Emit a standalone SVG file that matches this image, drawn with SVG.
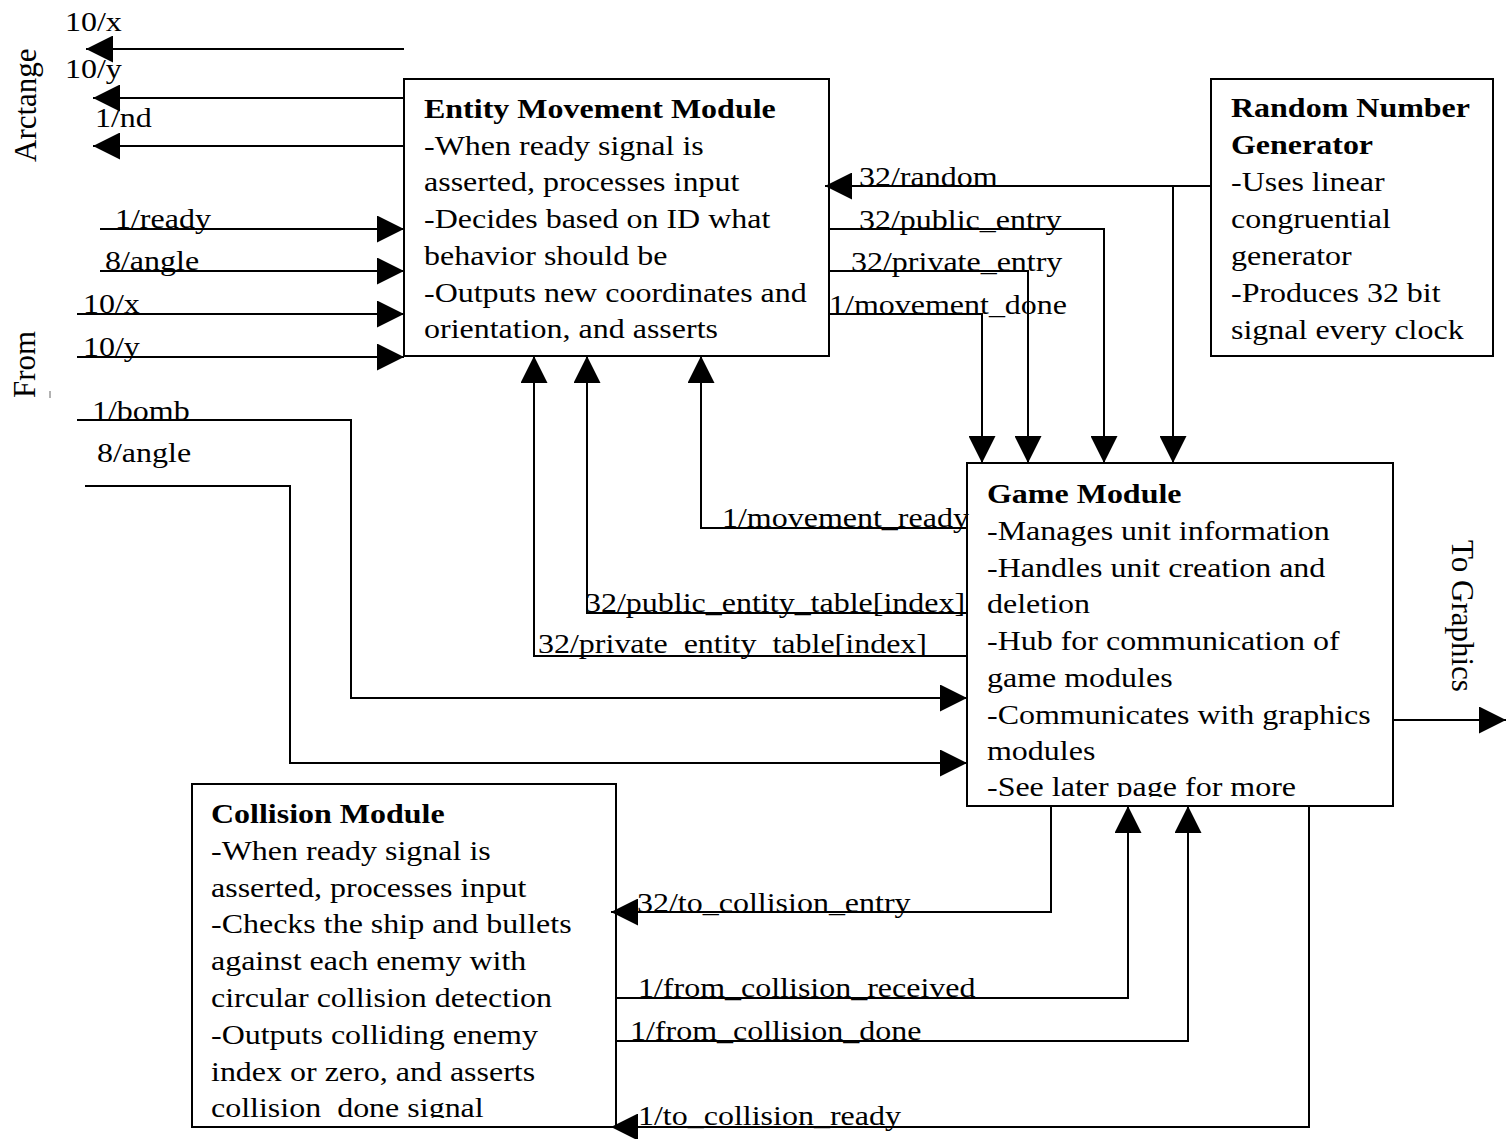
<svg xmlns="http://www.w3.org/2000/svg" width="1508" height="1139" viewBox="0 0 1508 1139">
<defs>
<style>
text{font-family:"Liberation Serif","Times New Roman",serif;font-size:32px;fill:#000}
.s{transform-box:fill-box;transform-origin:0 80.5%;transform:scaleY(0.88)}
.b{font-weight:bold}
.r{font-size:31px}
.box{fill:#fff;stroke:#000;stroke-width:2}
.c path{fill:none;stroke:#000;stroke-width:2;marker-end:url(#ah)}
.c path.n{marker-end:none}
</style>
<marker id="ah" markerUnits="userSpaceOnUse" markerWidth="27" markerHeight="27" refX="27" refY="13.5" orient="auto" viewBox="0 0 27 27"><path d="M0,0L27,13.5L0,27z" fill="#000"/></marker>
<clipPath id="cg"><rect x="967" y="463" width="426" height="334"/></clipPath>
<clipPath id="cc"><rect x="192" y="784" width="424" height="334"/></clipPath>
</defs>
<rect width="1508" height="1139" fill="#fff"/>

<g id="entity-movement">
<rect class="box" x="404" y="79" width="425" height="277"/>
<text class="s b" x="424" y="118">Entity Movement Module</text>
<text class="s" x="424" y="155">-When ready signal is</text>
<text class="s" x="424" y="191">asserted, processes input</text>
<text class="s" x="424" y="228">-Decides based on ID what</text>
<text class="s" x="424" y="265">behavior should be</text>
<text class="s" x="424" y="302">-Outputs new coordinates and</text>
<text class="s" x="424" y="338">orientation, and asserts</text>
</g>

<g id="random-number-generator">
<rect class="box" x="1211" y="79" width="282" height="277"/>
<text class="s b" x="1231" y="117">Random Number</text>
<text class="s b" x="1231" y="154">Generator</text>
<text class="s" x="1231" y="191">-Uses linear</text>
<text class="s" x="1231" y="228">congruential</text>
<text class="s" x="1231" y="265">generator</text>
<text class="s" x="1231" y="302">-Produces 32 bit</text>
<text class="s" x="1231" y="339">signal every clock</text>
</g>

<g id="game-module">
<rect class="box" x="967" y="463" width="426" height="343"/>
<g clip-path="url(#cg)">
<text class="s b" x="987" y="503">Game Module</text>
<text class="s" x="987" y="540">-Manages unit information</text>
<text class="s" x="987" y="577">-Handles unit creation and</text>
<text class="s" x="987" y="613">deletion</text>
<text class="s" x="987" y="650">-Hub for communication of</text>
<text class="s" x="987" y="687">game modules</text>
<text class="s" x="987" y="724">-Communicates with graphics</text>
<text class="s" x="987" y="760">modules</text>
<text class="s" x="987" y="796">-See later page for more</text>
</g>
</g>

<g id="collision-module">
<rect class="box" x="192" y="784" width="424" height="343"/>
<g clip-path="url(#cc)">
<text class="s b" x="211" y="823">Collision Module</text>
<text class="s" x="211" y="860">-When ready signal is</text>
<text class="s" x="211" y="897">asserted, processes input</text>
<text class="s" x="211" y="933">-Checks the ship and bullets</text>
<text class="s" x="211" y="970">against each enemy with</text>
<text class="s" x="211" y="1007">circular collision detection</text>
<text class="s" x="211" y="1044">-Outputs colliding enemy</text>
<text class="s" x="211" y="1081">index or zero, and asserts</text>
<text class="s" x="211" y="1117">collision_done signal</text>
</g>
</g>

<g id="side-labels">
<text class="r" transform="translate(36,162) rotate(-90)">Arctange</text>
<text class="r" transform="translate(35,398) rotate(-90)">From</text>
<line x1="50" y1="391" x2="50" y2="398" stroke="#666" stroke-width="1"/>
<text class="r" transform="translate(1452,540) rotate(90)">To Graphics</text>
</g>

<g id="connectors" class="c">
<path d="M404,49H86"/>
<path d="M404,98H93"/>
<path d="M404,146H93"/>
<path d="M100,229H404"/>
<path d="M100,271H404"/>
<path d="M77,314H404"/>
<path d="M77,357H404"/>
<path d="M77,420H351V698H967"/>
<path d="M85,486H290V763H967"/>
<path d="M1211,186H825"/>
<path d="M1173,186V463"/>
<path d="M829,229H1104V463"/>
<path d="M829,271H1028V463"/>
<path d="M829,314H982V463"/>
<path d="M967,528H701V356"/>
<path d="M967,613H587V356"/>
<path d="M967,656H534V356"/>
<path d="M1393,720H1506"/>
<path d="M1051,806V912H611"/>
<path d="M616,998H1128V806"/>
<path d="M616,1041H1188V806"/>
<path d="M1309,806V1127H611"/>

<text class="s" x="65" y="31">10/x</text>
<text class="s" x="65" y="78">10/y</text>
<text class="s" x="95" y="127">1/nd</text>
<text class="s" x="115" y="228">1/ready</text>
<text class="s" x="105" y="270">8/angle</text>
<text class="s" x="83" y="313">10/x</text>
<text class="s" x="83" y="356">10/y</text>
<text class="s" x="92" y="420">1/bomb</text>
<text class="s" x="97" y="462">8/angle</text>
<text class="s" x="859" y="186">32/random</text>
<text class="s" x="859" y="229">32/public_entry</text>
<text class="s" x="851" y="271">32/private_entry</text>
<text class="s" x="829" y="314">1/movement_done</text>
<text class="s" x="722" y="527">1/movement_ready</text>
<text class="s" x="585" y="612">32/public_entity_table[index]</text>
<text class="s" x="538" y="653">32/private_entity_table[index]</text>
<text class="s" x="637" y="912">32/to_collision_entry</text>
<text class="s" x="638" y="997">1/from_collision_received</text>
<text class="s" x="630" y="1040">1/from_collision_done</text>
<text class="s" x="638" y="1125">1/to_collision_ready</text>
</g>
</svg>
